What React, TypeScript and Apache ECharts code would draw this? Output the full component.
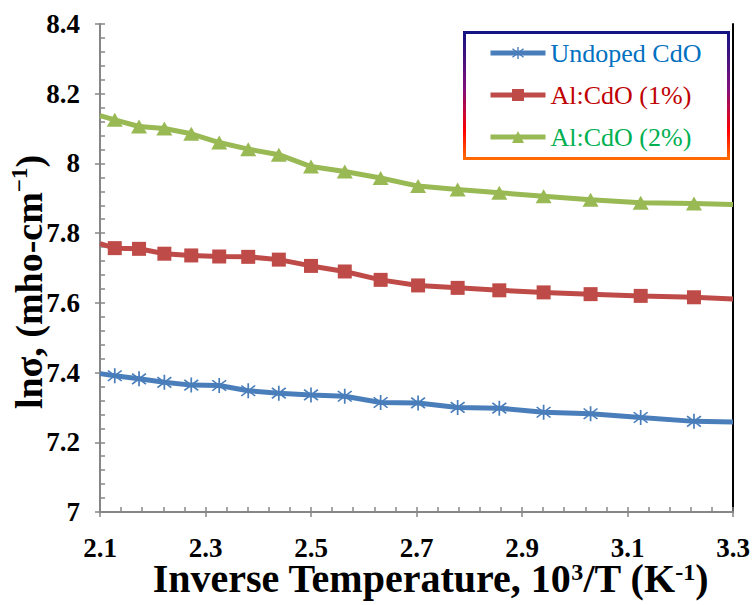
import React, { useEffect, useRef } from "react";
import * as echarts from "echarts";

// Inverse temperature, 10^3/T (K^-1)
const inverseT = [2.128, 2.174, 2.222, 2.273, 2.326, 2.381, 2.439, 2.5, 2.564, 2.632, 2.703, 2.778, 2.857, 2.941, 3.03, 3.125, 3.226];
// ln(sigma) values
const undoped = [7.391, 7.382, 7.372, 7.364, 7.363, 7.348, 7.341, 7.336, 7.332, 7.314, 7.313, 7.3, 7.298, 7.286, 7.282, 7.271, 7.26];
const al1 = [7.757, 7.755, 7.741, 7.736, 7.733, 7.732, 7.724, 7.706, 7.69, 7.666, 7.65, 7.643, 7.636, 7.63, 7.625, 7.62, 7.616];
const al2 = [8.125, 8.106, 8.1, 8.085, 8.06, 8.041, 8.025, 7.991, 7.977, 7.958, 7.935, 7.925, 7.916, 7.906, 7.896, 7.887, 7.885];
// line values where the curves meet the plot edges (x = 2.1 and x = 3.3)
const edgeX = [2.1, 3.3];
const undopedEdges = [7.397, 7.258];
const al1Edges = [7.77, 7.611];
const al2Edges = [8.137, 7.882];

const seriesNames = ["Undoped CdO", "Al:CdO (1%)", "Al:CdO (2%)"];
const lineColors = ["#4A7EBB", "#BE4B48", "#98B954"];
const legendColors = ["#0070C0", "#C00000", "#00B050"];

const SERIF = '"Liberation Serif", "Times New Roman", serif';
const STAR =
  "path://M9 0L11 0L11 20L9 20Z M2.66 2.25L18.66 16.25L17.34 17.75L1.34 3.75Z M18.66 3.75L2.66 17.75L1.34 16.25L17.34 2.25Z";

function buildData(vals: number[], edges: number[]) {
  return [
    { value: [edgeX[0], edges[0]], symbol: "none" },
    ...inverseT.map((x, i) => [x, vals[i]]),
    { value: [edgeX[1], edges[1]], symbol: "none" },
  ];
}

export default function App() {
  const ref = useRef<HTMLDivElement>(null);
  useEffect(() => {
    document.body.style.margin = "0";
    const chart = echarts.init(ref.current!, null, { renderer: "svg" });
    const gray = "#868686";
    const baseAxis = { min: 7, max: 8.4, interval: 0.2 };
    const baseX = { min: 2.1, max: 3.3, interval: 0.2 };
    const xTitleRich = {
      a: { fontFamily: SERIF, fontWeight: "bold", fontSize: 40, color: "#000", lineHeight: 36 },
      s: { fontFamily: SERIF, fontWeight: "bold", fontSize: 24, color: "#000", lineHeight: 20, verticalAlign: "top" },
    };
    const yTitleRich = {
      a: { fontFamily: SERIF, fontWeight: "bold", fontSize: 38, color: "#000", lineHeight: 42 },
      s: { fontFamily: SERIF, fontWeight: "bold", fontSize: 23, color: "#000", lineHeight: 25, verticalAlign: "top" },
    };
    const option: any = {
      animation: false,
      backgroundColor: "#ffffff",
      grid: { left: 100, right: 20, top: 24, bottom: 93, containLabel: false, outerBoundsMode: "none" },
      xAxis: [
        {
          type: "value",
          ...baseX,
          position: "bottom",
          axisLine: { show: true, lineStyle: { color: gray, width: 2 } },
          axisTick: { show: true, inside: false, length: 5, lineStyle: { color: gray, width: 1.5 } },
          splitLine: { show: false },
          axisLabel: {
            margin: 24,
            fontFamily: SERIF,
            fontWeight: "bold",
            fontSize: 27,
            lineHeight: 24,
            color: "#000",
          },
          name: "{a|Inverse Temperature, 10}{s|3}{a|/T (K}{s|-1}{a|)}",
          nameLocation: "middle",
          nameGap: 48,
          nameMoveOverlap: false,
          nameTextStyle: { rich: xTitleRich, padding: [0, 0, 0, 28] },
        },
        {
          type: "value",
          ...baseX,
          position: "bottom",
          axisLine: { show: false },
          axisTick: { show: true, inside: true, length: 5, lineStyle: { color: gray, width: 1.5 } },
          minorTick: { show: true, splitNumber: 5, length: 5, lineStyle: { color: gray, width: 1.5 } },
          splitLine: { show: false },
          axisLabel: { show: false },
        },
      ],
      yAxis: [
        {
          type: "value",
          ...baseAxis,
          position: "left",
          axisLine: { show: true, lineStyle: { color: gray, width: 2 } },
          axisTick: { show: true, inside: false, length: 5, lineStyle: { color: gray, width: 1.5 } },
          splitLine: { show: false },
          axisLabel: {
            margin: 20,
            fontFamily: SERIF,
            fontWeight: "bold",
            fontSize: 27,
            color: "#000",
          },
          name: "{a|lnσ, (mho-cm}{s|−1}{a|)}",
          nameLocation: "middle",
          nameGap: 50,
          nameMoveOverlap: false,
          nameTextStyle: { rich: yTitleRich, padding: [0, 28, 0, 0] },
        },
        {
          type: "value",
          ...baseAxis,
          position: "left",
          axisLine: { show: false },
          axisTick: { show: true, inside: true, length: 5, lineStyle: { color: gray, width: 1.5 } },
          minorTick: { show: true, splitNumber: 5, length: 5, lineStyle: { color: gray, width: 1.5 } },
          splitLine: { show: false },
          axisLabel: { show: false },
        },
        {
          type: "value",
          ...baseAxis,
          position: "right",
          axisLine: { show: true, onZero: false, lineStyle: { color: "#000", width: 2 } },
          axisTick: { show: false },
          splitLine: { show: false },
          axisLabel: { show: false },
        },
      ],
      legend: {
        orient: "vertical",
        left: 488,
        top: 38,
        padding: 0,
        itemGap: 12,
        itemWidth: 55,
        itemHeight: 15,
        lineStyle: { width: 5 },
        textStyle: { fontFamily: SERIF, fontSize: 26, lineHeight: 30 },
        data: seriesNames.map((n, i) => ({ name: n, textStyle: { color: legendColors[i] } })),
      },
      graphic: [
        {
          type: "rect",
          left: 463,
          top: 31,
          shape: { width: 264, height: 126 },
          style: {
            fill: "transparent",
            lineWidth: 3,
            stroke: new echarts.graphic.LinearGradient(0, 0, 0, 1, [
              { offset: 0, color: "#141482" },
              { offset: 0.45, color: "#80107a" },
              { offset: 0.78, color: "#ff0000" },
              { offset: 1, color: "#ff6a00" },
            ]),
          },
          z: 10,
        },
      ],
      series: [
        {
          name: seriesNames[0],
          type: "line",
          data: buildData(undoped, undopedEdges),
          symbol: STAR,
          symbolSize: 15,
          lineStyle: { color: lineColors[0], width: 5 },
          itemStyle: { color: lineColors[0] },
          z: 3,
        },
        {
          name: seriesNames[1],
          type: "line",
          data: buildData(al1, al1Edges),
          symbol: "rect",
          symbolSize: 14,
          lineStyle: { color: lineColors[1], width: 5 },
          itemStyle: { color: lineColors[1] },
          z: 3,
        },
        {
          name: seriesNames[2],
          type: "line",
          data: buildData(al2, al2Edges),
          symbol: "triangle",
          symbolSize: [16, 14],
          lineStyle: { color: lineColors[2], width: 5 },
          itemStyle: { color: lineColors[2] },
          z: 3,
        },
      ],
    };
    chart.setOption(option);
    return () => chart.dispose();
  }, []);
  return <div ref={ref} style={{ width: 753, height: 605 }} />;
}
